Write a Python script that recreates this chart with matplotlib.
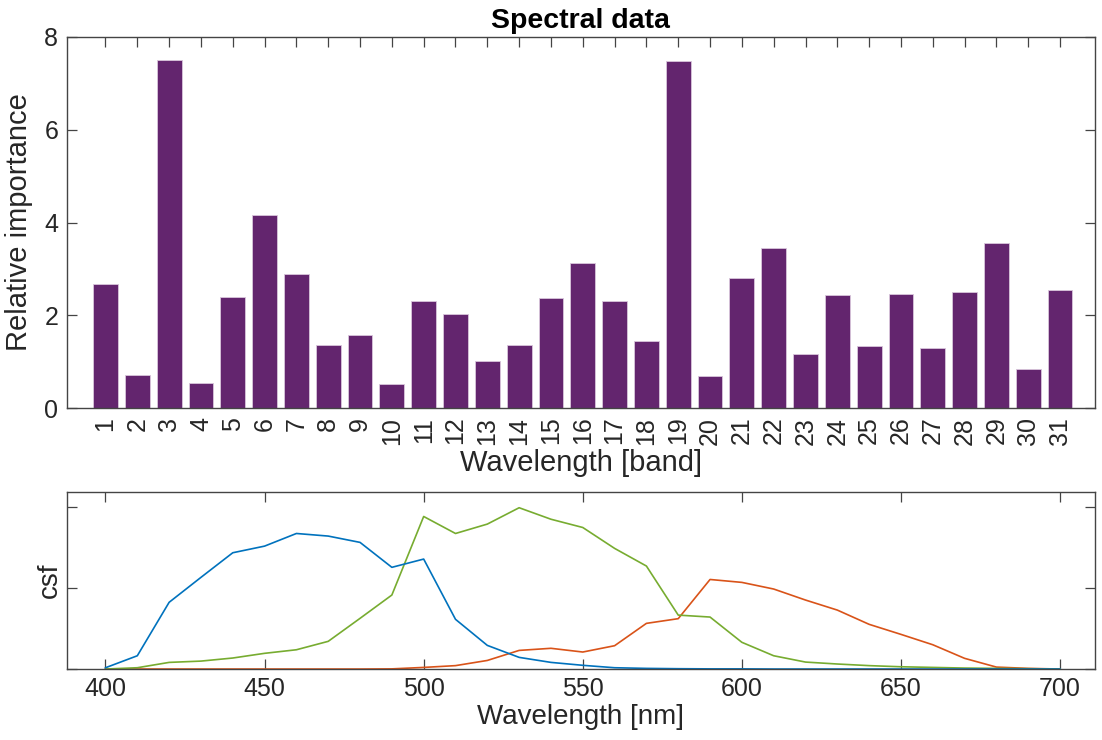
import numpy as np
import matplotlib
matplotlib.use("Agg")
import matplotlib.pyplot as plt

plt.rcParams['font.family'] = ['Liberation Sans', 'DejaVu Sans']

# relative importance per band
bands = np.arange(1, 32)
importance = [2.68, 0.72, 7.50, 0.54, 2.39, 4.17, 2.90, 1.37, 1.58, 0.52,
              2.32, 2.04, 1.02, 1.37, 2.38, 3.13, 2.31, 1.45, 7.47, 0.70,
              2.81, 3.46, 1.18, 2.45, 1.34, 2.46, 1.30, 2.51, 3.55, 0.84, 2.55]

# camera sensitivity functions, 400..700 nm step 10
wl = np.arange(400, 701, 10)
csf_blue = [0.008, 0.082, 0.412, 0.566, 0.718, 0.759, 0.837, 0.821, 0.782, 0.628,
            0.679, 0.307, 0.146, 0.072, 0.041, 0.023, 0.008, 0.004, 0.002, 0.001,
            0.001, 0, 0, 0, 0, 0, 0, 0, 0, 0, 0]
csf_green = [0, 0.008, 0.041, 0.049, 0.068, 0.097, 0.119, 0.171, 0.313, 0.457,
             0.942, 0.837, 0.895, 0.996, 0.925, 0.874, 0.745, 0.636, 0.333, 0.321,
             0.165, 0.082, 0.043, 0.031, 0.021, 0.014, 0.010, 0.006, 0.004, 0.002, 0]
csf_red = [0, 0, 0, 0, 0, 0, 0, 0, 0, 0.001,
           0.010, 0.021, 0.053, 0.115, 0.128, 0.105, 0.144, 0.282, 0.311, 0.553,
           0.535, 0.494, 0.426, 0.364, 0.276, 0.214, 0.150, 0.066, 0.012, 0.004, 0]

axcol = '#262626'
spinecol = '#444444'

fig = plt.figure(figsize=(11.02, 7.40), dpi=100)
ax1 = fig.add_axes([0.0605, 0.4482, 0.9332, 0.5022])
ax2 = fig.add_axes([0.0605, 0.0959, 0.9332, 0.2392])

ax1.bar(bands, importance, width=0.78, color='#63256e', edgecolor='#d9c6dc', linewidth=0.6, zorder=2)
ax1.set_xlim(-0.22, 32.1)
ax1.set_ylim(0, 8)
ax1.set_xticks(bands)
ax1.set_xticklabels([str(b) for b in bands], rotation=90)
ax1.set_yticks([0, 2, 4, 6, 8])
ax1.set_xlabel('Wavelength [band]', fontsize=21, color=axcol, labelpad=3)
ax1.set_ylabel('Relative importance', fontsize=21, color=axcol, labelpad=8)
ax1.set_title('Spectral data', fontsize=20.5, fontweight='bold', pad=6)

ax2.plot(wl, csf_red, color='#D95319', lw=1.2)
ax2.plot(wl, csf_green, color='#77AC30', lw=1.2)
ax2.plot(wl, csf_blue, color='#0072BD', lw=1.2)
ax2.set_xlim(387.8, 711)
ax2.set_ylim(0, 1.093)
ax2.set_xticks([400, 450, 500, 550, 600, 650, 700])
ax2.set_yticks([0, 0.5, 1.0])
ax2.set_yticklabels([])
ax2.set_xlabel('Wavelength [nm]', fontsize=20, color=axcol, labelpad=2)
ax2.set_ylabel('csf', fontsize=20, color=axcol, labelpad=-3)

for ax in (ax1, ax2):
    for s in ax.spines.values():
        s.set_color(spinecol)
        s.set_linewidth(1.0)
    ax.tick_params(direction='in', length=7.5, width=0.9, color=spinecol, labelcolor=axcol,
                   labelsize=18, top=True, right=True, pad=6)

fig.savefig('out.png', dpi=100)
